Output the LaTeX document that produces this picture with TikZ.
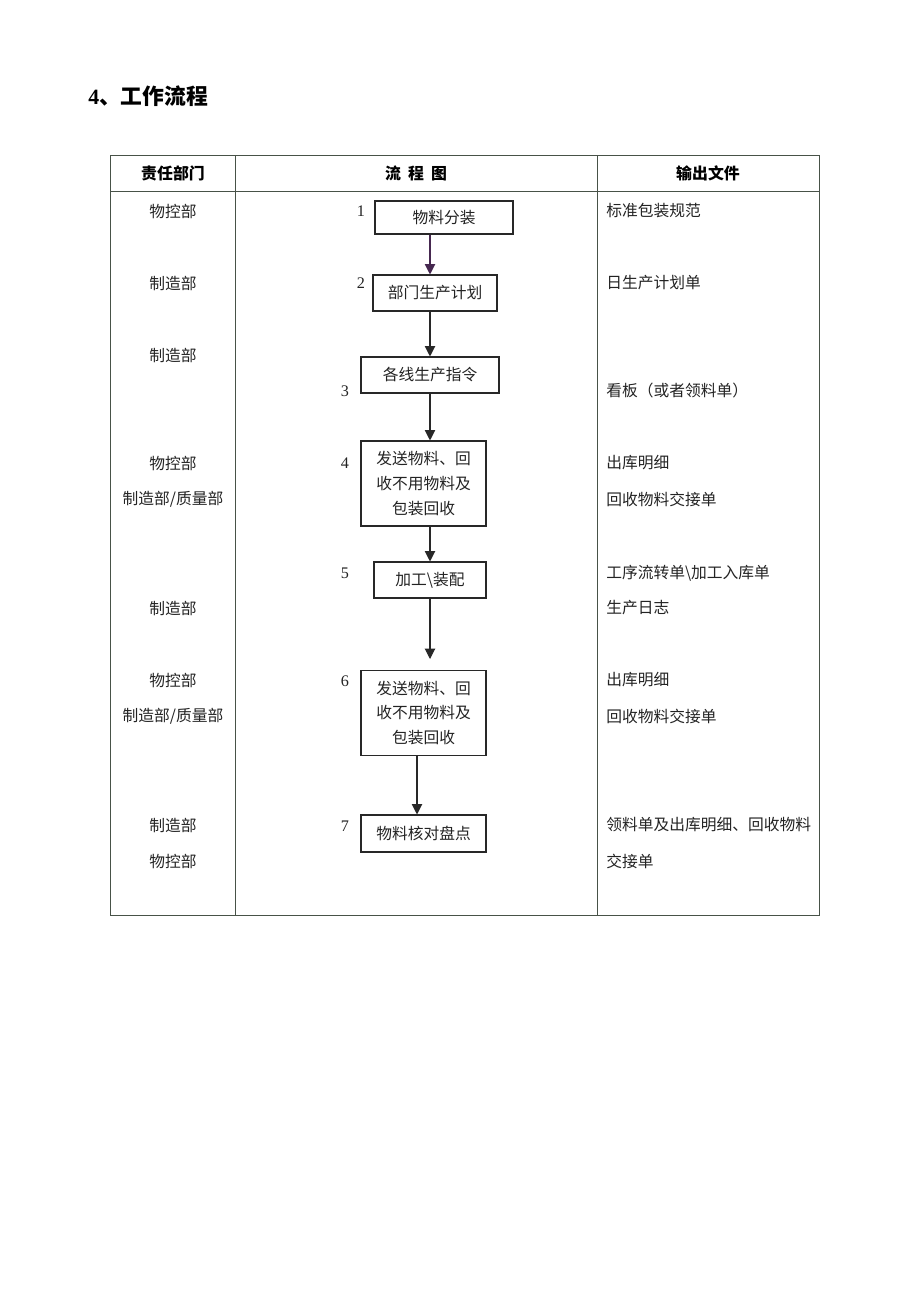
\documentclass[tikz,border=0pt]{standalone}
\usepackage{fontspec}
\usepackage{tikz}
\usetikzlibrary{arrows.meta}
\setmainfont{Liberation Serif}
\newfontfamily\cjk{Noto Sans CJK SC}
\definecolor{rulegray}{RGB}{72,82,72}
\definecolor{boxline}{RGB}{40,40,40}
\definecolor{firstarrow}{RGB}{70,40,80}
\definecolor{txt}{RGB}{35,35,35}

\begin{document}
\begin{tikzpicture}[x=0.025cm,y=-0.025cm,
  box/.style={draw=boxline, line width=0.75pt, align=center, inner sep=0pt, text=txt,
    font=\cjk\fontsize{11.2}{17.6}\selectfont},
  flow/.style={draw=boxline, line width=0.75pt, -{Triangle[width=0.26cm,length=0.26cm]}},
  dept/.style={text=txt, font=\cjk\fontsize{11.2}{13}\selectfont},
  outdoc/.style={anchor=west, inner sep=0pt, text=txt, font=\cjk\fontsize{11.2}{13}\selectfont},
  num/.style={text=txt, font=\fontsize{11.5}{13}\selectfont},
  head/.style={text=black, font=\cjk\bfseries\fontsize{11.3}{13}\selectfont}]
\useasboundingbox (0,0) rectangle (920,1302);

% title
\node[anchor=west, inner sep=0pt, font=\bfseries\fontsize{15.5}{17}\selectfont] (title) at (88,96) {4{\cjk 、工作流程}};

% table
\draw[rulegray, line width=0.6pt] (110,155) rectangle (819,915);
\draw[rulegray, line width=0.6pt] (110,191) -- (819,191);
\draw[rulegray, line width=0.6pt] (235,155) -- (235,915);
\draw[rulegray, line width=0.6pt] (597,155) -- (597,915);
\node[head] (h1) at (173,173) {责任部门};
\node[head] (h2) at (416,173) {流\hspace{0.45em}程\hspace{0.45em}图};
\node[head] (h3) at (708,173) {输出文件};

% flow boxes
\node[box, minimum width=3.45cm, minimum height=0.825cm] (b1) at (444,217.5) {物料分装};
\node[box, minimum width=3.1cm, minimum height=0.9cm] (b2) at (435,293) {部门生产计划};
\node[box, minimum width=3.45cm, minimum height=0.9cm] (b3) at (430,375) {各线生产指令};
\node[box, minimum width=3.125cm, minimum height=2.125cm] (b4) at (423.5,483.5) {发送物料、回\\收不用物料及\\包装回收};
\node[box, minimum width=2.8cm, minimum height=0.9cm] (b5) at (430,580) {加工\textbackslash 装配};
\node[box, minimum width=3.125cm, minimum height=2.125cm] (b6) at (423.5,713) {发送物料、回\\收不用物料及\\包装回收};
\node[box, minimum width=3.125cm, minimum height=0.925cm] (b7) at (423.5,833.5) {物料核对盘点};

\node[num] (n1) at (361,211) {1};
\node[num] (n2) at (361,283) {2};
\node[num] (n3) at (345,391) {3};
\node[num] (n4) at (345,463) {4};
\node[num] (n5) at (345,573) {5};
\node[num] (n6) at (345,681) {6};
\node[num] (n7) at (345,826) {7};

% arrows
\coordinate (c5) at (430,659);
\coordinate (c67) at (417,0);
\draw[flow, draw=firstarrow] (b1.south -| b3) -- (b2.north -| b3);
\draw[flow] (b2.south -| b3) -- (b3.north);
\draw[flow] (b3.south) -- (b3.south |- b4.north);
\draw[flow] (b5.north |- b4.south) -- (b5.north);
\draw[flow] (b5.south) -- (c5);
\draw[flow] (b6.south -| c67) -- (b7.north -| c67);

% departments
\node[dept] (d1) at (173,211) {物控部};
\node[dept] (d2) at (173,283) {制造部};
\node[dept] (d3) at (173,355) {制造部};
\node[dept] (d4) at (173,463) {物控部};
\node[dept] (d5) at (173,499) {制造部/质量部};
\node[dept] (d6) at (173,608) {制造部};
\node[dept] (d7) at (173,680) {物控部};
\node[dept] (d8) at (173,716) {制造部/质量部};
\node[dept] (d9) at (173,825) {制造部};
\node[dept] (d10) at (173,861) {物控部};

% output documents
\node[outdoc] (o1) at (606,211) {标准包装规范};
\node[outdoc] (o2) at (606,283) {日生产计划单};
\node[outdoc] (o3) at (606,391) {看板（或者领料单）};
\node[outdoc] (o4) at (606,463) {出库明细};
\node[outdoc] (o5) at (606,499) {回收物料交接单};
\node[outdoc] (o6) at (606,573) {工序流转单\textbackslash 加工入库单};
\node[outdoc] (o7) at (606,608) {生产日志};
\node[outdoc] (o8) at (606,680) {出库明细};
\node[outdoc] (o9) at (606,716) {回收物料交接单};
\node[outdoc] (o10) at (606,825) {领料单及出库明细、回收物料};
\node[outdoc] (o11) at (606,861) {交接单};

\end{tikzpicture}
\end{document}
